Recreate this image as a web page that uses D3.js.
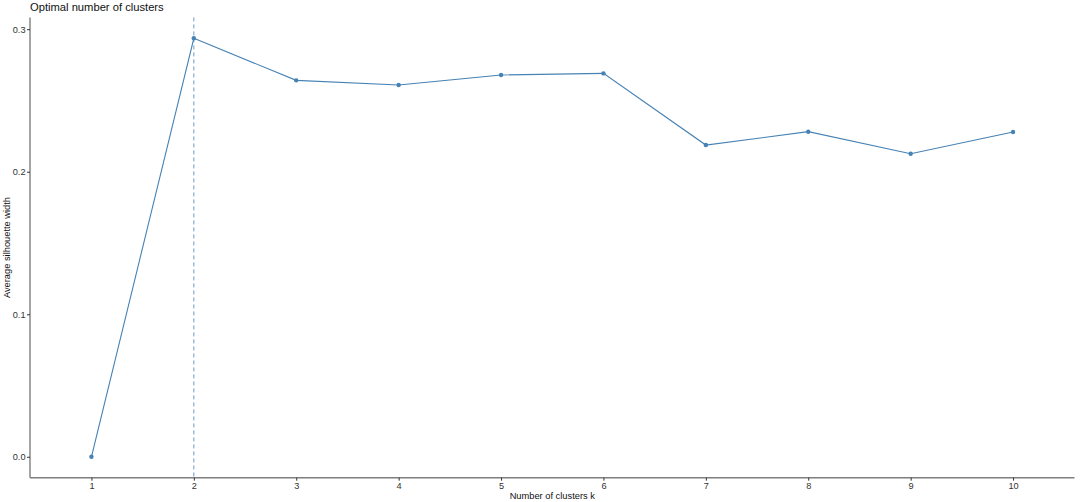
<!DOCTYPE html>
<html><head><meta charset="utf-8">
<script src="https://cdn.jsdelivr.net/npm/d3@7"></script>
<style>body{margin:0;background:#fff}svg{display:block}</style>
</head><body>
<script>
const categories = ["1","2","3","4","5","6","7","8","9","10"];
const silhouette = [0, 0.2936, 0.2641, 0.2608, 0.2679, 0.2690, 0.2187, 0.2281, 0.2126, 0.2279];
const yTicks = [0, 0.1, 0.2, 0.3];
const optimalK = "2";
const titleText = "Optimal number of clusters";
const xTitle = "Number of clusters k";
const yTitle = "Average silhouette width";

const W = 1080, H = 502;
const svg = d3.select("body").append("svg").attr("width", W).attr("height", H);
const pLeft = 30, pRight = 1074.5, pTop = 17.4, pBottom = 477.7;

const x = d3.scalePoint().domain(categories).range([pLeft, pRight]).padding(0.6);
const ymin = d3.min(silhouette), ymax = d3.max(silhouette), pad = (ymax - ymin) * 0.05;
const y = d3.scaleLinear().domain([ymin - pad, ymax + pad]).range([pBottom, pTop]);

// axes
const font = "Liberation Sans, Arial, sans-serif";
const xa = svg.append("g").attr("transform", `translate(0,${pBottom})`)
  .call(d3.axisBottom(x).tickSize(3).tickPadding(1.5));
const ya = svg.append("g").attr("transform", `translate(${pLeft},0)`)
  .call(d3.axisLeft(y).tickValues(yTicks).tickFormat(d3.format(".1f")).tickSize(3).tickPadding(1.5));
[xa, ya].forEach(a => {
  a.select(".domain").attr("stroke", "#7f7f7f").attr("stroke-width", 1.4);
  a.selectAll(".tick line").attr("stroke", "#333").attr("stroke-width", 1);
  a.selectAll(".tick text").attr("fill", "#333").style("font-family", font).style("font-size", "9.2px");
});
xa.select(".domain").attr("d", `M${pLeft},0H${pRight}`);
ya.select(".domain").attr("d", `M0,${pBottom}V${pTop}`);

// vline
svg.append("line").attr("x1", x(optimalK)).attr("x2", x(optimalK))
  .attr("y1", pTop).attr("y2", pBottom)
  .attr("stroke", "#4682B4").attr("stroke-opacity", 0.8).attr("stroke-width", 1).attr("stroke-dasharray", "4,3");

// line
const data = categories.map((c, i) => ({c, v: silhouette[i]}));
svg.append("path").datum(data)
  .attr("d", d3.line().x(d => x(d.c)).y(d => y(d.v)))
  .attr("fill", "none").attr("stroke", "#4682B4").attr("stroke-width", 1.1);
svg.selectAll("circle.pt").data(data).join("circle").attr("class", "pt")
  .attr("cx", d => x(d.c)).attr("cy", d => y(d.v)).attr("r", 2.2).attr("fill", "#4682B4");

// titles
svg.append("text").attr("x", pLeft).attr("y", 10.5).text(titleText)
  .style("font-family", font).style("font-size", "11.2px").attr("fill", "#111");
svg.append("text").attr("x", (pLeft + pRight) / 2).attr("y", 499).attr("text-anchor", "middle")
  .text(xTitle).style("font-family", font).style("font-size", "9.3px").attr("fill", "#111");
svg.append("text").attr("transform", `translate(9.5,${(pTop + pBottom) / 2}) rotate(-90)`)
  .attr("text-anchor", "middle").text(yTitle)
  .style("font-family", font).style("font-size", "9.3px").attr("fill", "#111");
</script>
</body></html>
